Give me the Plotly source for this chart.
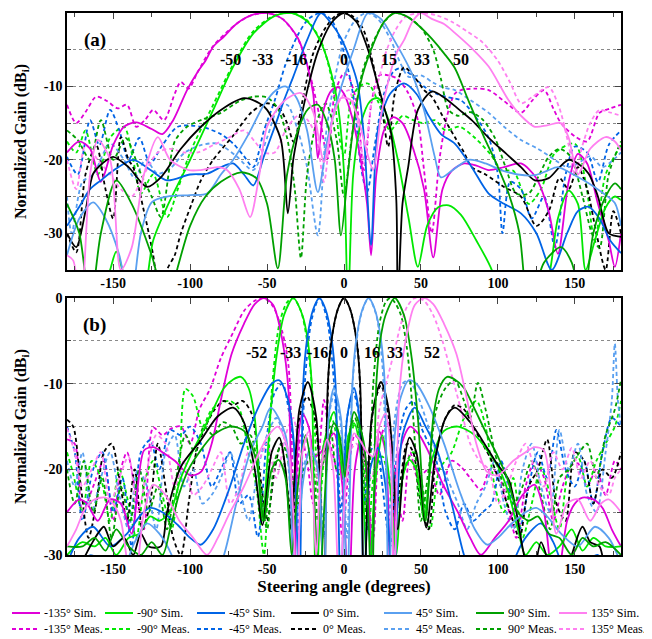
import plotly.graph_objects as go

# steering labels / colours (sim solid, meas dashed)
steer = ['-135°', '-90°', '-45°', '0°', '45°', '90°', '135°']
colors = ['#E000D8', '#00E800', '#0064E6', '#000000', '#5AA0F0', '#00A000', '#FF80F0']

# axis tick labels
x_ticks = [-150, -100, -50, 0, 50, 100, 150]
x_ticktext = ['-150', '-100', '-50', '0', '50', '100', '150']
y_ticks = [0, -10, -20, -30]
y_ticktext = ['0', '-10', '-20', '-30']

# ---------------- panel (a) : (angle deg, gain dB) ----------------
a_m135_sim = [(-180,-19),(-172,-17.5),(-165,-18.5),(-158,-23),(-150,-18),(-143,-15.5),(-135,-14.9),(-125,-15.8),(-118,-16.5),(-111,-14.6),(-102,-10.5),(-95,-8),(-90,-6.5),(-85,-4.6),(-78,-3.2),(-70,-1.5),(-60,-0.3),(-50,0),(-40,-0.8),(-30,-3.4),(-24,-7),(-20,-11),(-17,-19.8),(-13,-13),(-8,-10.5),(-4,-10.1),(0,-11),(5,-14),(10,-19),(15,-26),(17.6,-33),(21,-22),(26,-16),(32,-14.2),(38,-15),(45,-18.5),(52,-24),(58,-33.3),(64,-24),(70,-21.5),(78,-20.5),(86,-20.8),(94,-21.4),(104,-21),(115,-20.5),(125,-22.5),(133,-27),(139,-32.8),(146,-23),(152,-19.2),(158,-20.5),(165,-26),(172,-31),(176,-34.6),(180,-30)]
a_m90_sim = [(-180,-40),(-160,-40),(-152,-35),(-148,-32.5),(-144,-35),(-138,-40),(-130,-38),(-124,-31),(-115,-26.4),(-100,-20),(-85,-13.2),(-72,-7.3),(-59,-2.8),(-45,-0.4),(-34,0),(-23.5,-1.2),(-15,-4),(-8.5,-8),(-4,-12.5),(0,-21.7),(2.6,-40),(6,-22),(11,-15),(17,-12),(22,-11.6),(28,-14),(35,-20),(42,-28),(48,-34.6),(54,-29),(61,-26.5),(68,-26.2),(76,-27.5),(86,-31),(96,-35),(102,-40),(125,-40),(133,-36),(139,-28),(146,-24.2),(152,-26),(157,-35),(163,-31),(170,-26.5),(176,-25),(180,-25.5)]
a_m45_sim = [(-180,-29),(-172,-26.4),(-165,-24),(-158,-22.8),(-150,-21.5),(-137,-20),(-125,-21.5),(-115,-22.8),(-100,-22),(-89,-21.9),(-80,-21),(-72,-20.5),(-65,-22),(-59,-23.5),(-52,-19.5),(-45,-15.5),(-39,-11.9),(-33,-8.7),(-24,-3.7),(-15,0),(-8,-1.5),(-2,-3.4),(4.6,-6.7),(9,-9.8),(13,-17),(17.6,-31.6),(22,-16),(30,-11),(39,-9.6),(47,-11),(55,-14),(63,-16.5),(72,-17.8),(83,-21),(94,-24.6),(104,-26),(115,-27.3),(125,-30),(135,-35),(145,-30),(152,-27),(159,-26.4),(166,-28),(173,-31),(180,-32.7)]
a_0_sim = [(-180,-30),(-174,-31.9),(-168,-27),(-163,-21.9),(-157,-20.5),(-150,-19.6),(-140,-21),(-128,-23.7),(-119,-22.4),(-106,-18.5),(-93,-15.5),(-80,-13.2),(-65,-11.6),(-55,-12.3),(-50,-13.2),(-41,-17.3),(-36.5,-27.3),(-33,-20),(-30,-16.5),(-23.5,-10.2),(-17,-5.3),(-8,-1.3),(0,0),(8,-1.2),(15.6,-5),(21,-9),(26,-12.8),(30.6,-16.4),(34,-25.5),(35,-40),(38,-26),(41.7,-21),(48,-13.2),(57,-10.7),(65,-11.5),(75,-13.2),(83,-14.6),(94,-17),(105,-19.1),(115,-21),(124,-22.8),(133,-22.5),(140,-21),(146,-20),(152,-20.5),(159,-21.9),(165,-25),(172,-30),(180,-30.5)]
a_45_sim = [(-180,-33),(-172,-28),(-163,-25.8),(-155,-28),(-146,-33),(-139,-40),(-132,-30),(-125,-25.8),(-115,-25),(-100,-24.8),(-89,-24.6),(-80,-22),(-72,-20),(-62,-16.5),(-52,-12.5),(-44,-10.5),(-38,-10),(-31,-11.5),(-24,-16),(-17,-24.4),(-10.5,-17),(-2,-10.2),(6.5,-4.8),(15.6,0),(24,-0.8),(32.6,-3.7),(44,-8.2),(52,-13.2),(59,-19.6),(63,-22.4),(70,-21.5),(81,-20),(92,-20.5),(102,-21.4),(113,-22),(124,-22.1),(132,-21.5),(139,-21),(149,-22),(159,-23.2),(168,-24.5),(176,-25.9),(180,-29)]
a_90_sim = [(-180,-26),(-172,-30),(-165,-40),(-158,-30),(-148,-22.8),(-138,-26),(-125,-33),(-115,-40),(-108,-34.6),(-100,-29),(-90,-25),(-80,-23),(-67,-21.7),(-57,-22.5),(-50,-26),(-43,-34.8),(-37,-22),(-30,-16),(-23,-13),(-17,-12.5),(-11,-15),(-6,-20),(-2,-30.3),(2.6,-21.7),(7,-14),(12,-8.5),(19.5,-4),(26,-1.2),(33,0),(41,-0.5),(49,-1.8),(57,-3.5),(65,-5.5),(72,-7.5),(81,-12),(91,-16.9),(99,-20.5),(107,-24.6),(114,-30),(120,-40),(130,-34),(141,-31.9),(148,-34),(155,-40),(162,-30),(170,-25),(176,-23.2),(180,-24)]
a_135_sim = [(-180,-33),(-176,-33.7),(-171,-40),(-165,-22),(-160,-17.3),(-152,-20),(-145,-35),(-138,-32),(-130,-22),(-121,-16.9),(-113,-20),(-101,-21.4),(-93,-21.4),(-82,-21),(-76,-21.4),(-68,-24),(-61,-27.8),(-55,-22),(-50,-15.5),(-39,-12),(-28,-10.9),(-20,-13.5),(-13,-20.3),(-7,-14),(-2,-11.6),(4,-11.8),(10,-15),(15,-19),(19,-21.4),(24,-14),(29,-9.1),(34,-5.5),(39,-3.7),(45,-1),(50,0),(57,-0.8),(65,-1.5),(72,-2.7),(83,-4.8),(94,-7.3),(107,-11.9),(115,-14),(124,-15.5),(132,-15.3),(141,-15),(146,-17),(152,-22),(160,-18.5),(170,-16.9),(176,-17.5),(180,-18.7)]

a_m135_meas = [(-180,-12.5),(-174,-15),(-168,-13.5),(-161,-11.4),(-154,-12),(-147,-13),(-141,-12.5),(-135,-15.5),(-129,-14.5),(-124,-13.2),(-117,-14.6),(-110,-11),(-106,-9.4),(-101,-10.3),(-95,-8),(-85,-4.5),(-70,-1.5),(-60,-0.3),(-50,0),(-40,-0.8),(-30,-3.5),(-22,-8.5),(-16,-14),(-10.5,-19.8),(-6,-11),(0,-8.2),(3,-8.7),(8,-12),(13,-21.4),(18,-12),(23,-8.5),(29,-8.5),(35,-9),(42,-11),(48,-14.6),(52,-21.4),(57,-30),(62,-20),(67,-14),(72,-11),(76,-10.5),(85,-10.3),(94,-10.5),(104,-12),(115,-13.6),(122,-12),(130,-10.5),(136,-13),(141,-15),(150,-16.8),(158,-17.5),(166,-13.6),(173,-13),(180,-12.5)]
a_m90_meas = [(-180,-17.5),(-174,-19),(-168,-16),(-160,-22),(-152,-17),(-143,-15.5),(-137,-20),(-132,-24.6),(-124,-22),(-115,-27.8),(-108,-24),(-100,-19),(-85,-12.5),(-72,-7),(-59,-2.5),(-45,-0.3),(-34,0),(-25,-0.8),(-15,-3.8),(-8,-9),(-3,-17),(0,-19.5),(4.6,-11.9),(10,-10),(15.6,-9.6),(22,-12),(30,-16),(38,-14),(45,-14.6),(52,-15),(59,-14.6),(66,-16),(75,-15.5),(85,-17),(95,-19.2),(103,-21.5),(110,-21.5),(120,-26),(128,-24),(137,-19.1),(150,-17.8),(157,-23),(163,-31),(170,-22),(180,-18)]
a_m45_meas = [(-180,-19.6),(-173,-22),(-165,-14.6),(-159,-18),(-152,-13.2),(-146,-16),(-140,-20),(-133,-17),(-126,-20.5),(-118,-18),(-108,-15.5),(-93,-15.5),(-80,-16.5),(-72,-17.8),(-65,-19.5),(-59,-21),(-52,-16),(-45,-11.9),(-38,-7),(-30,-3),(-23,-0.8),(-15,0),(-8,-1),(-2,-4),(3,-8),(6.5,-11.9),(11,-21),(15,-24.4),(20,-18),(26,-11),(32,-8),(37,-7.5),(44,-8.5),(52,-10),(60,-11),(68,-11.5),(76,-11.9),(85,-14),(94,-17),(100,-22),(103,-30),(108,-23),(115,-24),(122,-28),(130,-25),(137,-31.9),(144,-22),(150,-18.2),(158,-19),(165,-23),(172,-18),(180,-16)]
a_0_meas = [(-180,-30),(-174,-32.6),(-168,-22),(-161,-18),(-155,-24),(-150,-28),(-145,-16.9),(-140,-20),(-137,-21),(-130,-27),(-124,-33),(-119,-40),(-115,-35),(-110,-33),(-106,-30),(-99,-26),(-93,-22.8),(-85,-20),(-72,-16.7),(-60,-13.5),(-50,-12.3),(-42,-13),(-37,-15),(-32.6,-17.6),(-27,-12),(-20,-5.5),(-12,-2),(-5,-0.3),(0,0),(6,-0.5),(12,-2),(15.6,-4.1),(20,-8),(24,-11.9),(28.7,-18.2),(33,-11),(39,-7.4),(45,-8.5),(52,-10.5),(57,-11.4),(64,-14),(72,-16.9),(78,-19),(83,-21),(92,-22),(104,-23.7),(115,-25),(125,-29),(133,-27),(140,-22.5),(146,-24),(152,-21),(158,-24),(164,-30),(170,-35),(175,-27),(180,-30)]
a_45_meas = [(-180,-25),(-177,-30),(-170,-23),(-163,-22),(-152,-17.8),(-143,-20),(-136,-22.5),(-129,-20),(-121,-21.9),(-112,-21),(-104,-19.1),(-93,-18),(-82,-17.8),(-70,-19.5),(-59,-21.4),(-50,-17),(-43,-13),(-37,-12.5),(-30,-16),(-24,-21),(-17,-30.3),(-12,-17),(-6,-9),(0,-3.8),(8,-0.8),(15,0),(22,-0.8),(30,-3.5),(37,-7),(42,-8.7),(50,-8.5),(58,-9.5),(65,-10.2),(72,-10.5),(83,-12),(94,-13.6),(104,-15.5),(115,-17.3),(126,-18.5),(137,-20),(145,-21),(152,-20.5),(160,-19.5),(168,-21),(175,-20),(180,-19)]
a_90_meas = [(-180,-16),(-173,-17.3),(-165,-20),(-158,-14.6),(-150,-20),(-142,-17),(-132,-21.9),(-125,-25),(-119,-27.8),(-110,-17.5),(-102,-15.5),(-92,-14.5),(-80,-13.6),(-68,-12),(-59,-11.4),(-50,-11.5),(-43,-13),(-37,-17),(-32,-24),(-28,-33.4),(-24,-22),(-18,-15),(-12,-12.3),(-5,-17),(0,-25),(5,-17),(12,-8),(20,-3.5),(27,-1),(33,0),(41,-0.5),(50,-2),(58,-5),(63,-9),(68,-13.2),(74,-14),(82,-13.5),(90,-14.5),(98,-17),(105,-21),(112,-24.6),(120,-24.6),(127,-22),(133,-19.6),(140,-18.5),(147,-19.5),(155,-25),(161,-30),(166,-32),(172,-22),(180,-17.5)]
a_135_meas = [(-180,-20),(-174,-24),(-168,-18),(-160,-20),(-152,-22),(-145,-24),(-138,-25),(-130,-22),(-121,-19),(-113,-18.5),(-104,-19),(-95,-19),(-85,-18),(-75,-17),(-65,-16),(-58,-17.5),(-52,-19),(-45,-19),(-38,-16),(-30,-14),(-24,-14.5),(-18,-17),(-13,-23),(-8,-15),(-3,-12),(3,-10.5),(8,-14),(13,-20),(18,-12),(22,-9.5),(27,-5.5),(33,-2.5),(40,-0.5),(50,0),(60,-0.3),(70,-1.2),(80,-2.5),(90,-4),(100,-6.5),(108,-9.5),(115,-12.3),(122,-11.5),(133,-10.1),(140,-13),(146,-18),(150,-22),(155,-18),(160,-15),(166,-13.2),(172,-13.5),(180,-14)]

# ---------------- panel (b) ----------------
b_m135_sim = [(-180,-25),(-172,-23.5),(-167,-24),(-160,-26),(-152,-23.5),(-145,-24),(-138,-27.5),(-130,-17.8),(-124,-17.4),(-118,-18),(-110,-19),(-100,-20.7),(-93,-20.3),(-86,-17),(-80,-11.9),(-73,-6.5),(-65,-3),(-58,-0.7),(-52,0),(-46,-0.8),(-40,-5),(-36,-11),(-32.6,-35),(-30,-17),(-27,-13.5),(-23,-15),(-19,-18.5),(-15,-18),(-10,-16.5),(-6.5,-15.8),(-1,-22),(3,-35),(7,-20),(11,-16.5),(15,-20),(18,-30),(23,-15.6),(27,-18),(30.6,-35),(36,-18),(43,-15),(49,-16),(55,-18),(65,-22),(74,-25),(82,-28),(89,-30),(98,-28),(107,-26),(116,-23),(124,-21.8),(130,-25),(137,-35),(145,-26),(150,-24),(155,-23.3),(162,-23.5),(168,-24.5),(174,-27),(180,-29)]
b_m90_sim = [(-180,-30),(-170,-28.5),(-162,-29),(-155,-28),(-148,-30),(-140,-28),(-133,-27.5),(-126,-25.5),(-120,-26),(-113,-25),(-106,-21),(-100,-18.5),(-93,-16),(-85,-13),(-78,-10.5),(-72,-9.5),(-67,-9.2),(-62,-10.5),(-58,-14),(-53,-26),(-48,-14),(-44,-7),(-39,-2),(-33,0),(-27,-2),(-23.5,-5),(-21,-10),(-18,-35),(-13,-17),(-6.5,-13.3),(-3,-17),(-0.6,-20.9),(3,-16),(6.5,-14.6),(10,-17),(13,-25),(16,-35),(20,-22),(25,-16),(30,-22),(34,-30),(38,-21),(42.5,-18.9),(47,-20),(52,-26),(57,-19),(65,-15.5),(74,-15),(85,-16),(94,-18),(101,-20),(107,-22.8),(113,-27),(118,-30),(125,-28.5),(132,-30),(140,-29),(148,-27),(155,-29.5),(162,-28),(170,-29),(180,-29)]
b_m45_sim = [(-180,-31),(-172,-28),(-163,-26.7),(-152,-29),(-141,-27.5),(-132,-25.3),(-126,-24.5),(-118,-25),(-108,-26.5),(-100,-28),(-93,-28.8),(-85,-27),(-75,-22.5),(-65,-17),(-55,-12.5),(-47,-10),(-42,-9.6),(-37,-11.5),(-33,-16),(-29,-35),(-26.5,-10),(-24,-4.8),(-20,-1.3),(-16,0),(-12,-1.3),(-8,-4.8),(-5.5,-10),(-2,-35),(2,-14),(6.5,-10.5),(10,-14),(13,-35),(17,-20),(22,-17.5),(27,-22),(32,-35),(38,-16),(46,-12.8),(53,-15),(61,-18),(70,-24),(78,-30),(85,-33),(95,-35),(105,-35),(112,-30),(120,-27.5),(128,-26.3),(136,-28.5),(145,-32),(155,-31),(165,-30),(172,-32),(180,-31)]
b_0_sim = [(-180,-30),(-172,-31),(-165,-29),(-160,-27.5),(-156,-26.7),(-150,-29),(-143,-28),(-137,-30),(-132,-27.5),(-127,-29),(-119,-29),(-115,-25),(-106,-19.7),(-93,-16.6),(-82,-13.8),(-72,-12.8),(-65,-14.5),(-58,-20),(-53,-26.5),(-47,-18),(-42,-16.3),(-38,-20),(-34.5,-27),(-29,-13),(-23.5,-9.8),(-18,-14),(-13,-35),(-10.5,-10),(-8,-4.8),(-4,-1.3),(0,0),(4,-1.3),(8,-4.8),(10.5,-10),(13,-35),(18,-14),(24,-9.8),(29,-13),(35,-27),(38.5,-20),(42.5,-16.3),(47,-18),(53.5,-26.8),(59,-19),(66,-14),(72,-12.8),(82,-14.5),(93,-17.5),(100,-19.5),(107,-21.2),(112,-25),(117,-30),(122,-33),(128,-28.5),(133,-31),(140,-35),(148,-30),(155,-26.7),(160,-28.5),(166,-29),(172,-33),(180,-32)]
b_45_sim = [(-180,-31),(-172,-32),(-165,-30),(-155,-31),(-145,-32),(-136,-28.5),(-128,-26.3),(-120,-27.5),(-112,-30),(-105,-34),(-95,-35),(-85,-33),(-78,-30),(-70,-24),(-61,-18),(-53,-15),(-47.6,-12.8),(-38,-16),(-32,-35),(-27,-22),(-22,-17.5),(-17,-20),(-13,-35),(-10,-14),(-6.5,-10.5),(-2,-14),(2,-35),(5.5,-10),(8,-4.8),(12,-1.3),(16,0),(20,-1.3),(24,-4.8),(26.5,-10),(29,-35),(33,-16),(37,-11.5),(42,-9.6),(47,-10),(55,-12.5),(65,-17),(75,-22.5),(85,-27),(93,-28.8),(100,-28),(108,-26.5),(118,-25),(125,-24.5),(132,-25.5),(141,-27.5),(152,-29),(163,-26.7),(172,-28),(180,-31)]
b_90_sim = [(-180,-29),(-170,-29),(-162,-28),(-155,-29.5),(-148,-27),(-140,-29),(-132,-30),(-125,-28.5),(-118,-30),(-113,-27),(-107,-22.8),(-101,-20),(-94,-18),(-85,-16),(-74,-15),(-65,-15.5),(-57,-19),(-52,-26),(-47,-20),(-42.5,-18.9),(-38,-21),(-34,-30),(-30,-22),(-25,-16),(-20,-22),(-16,-35),(-13,-25),(-10,-17),(-6.5,-14.6),(-3,-16),(0.6,-20.9),(3,-17),(6.5,-13.3),(13,-17),(18,-35),(21,-10),(23.5,-5),(27,-2),(33,0),(39,-2),(44,-7),(48,-14),(53,-26),(58,-14),(62,-10.5),(67,-9.2),(72,-9.5),(78,-10.5),(85,-13),(93,-16),(100,-18.5),(106,-21),(113,-25),(120,-26),(126,-25.5),(133,-27.5),(140,-28),(148,-30),(155,-28),(162,-29),(170,-28.5),(180,-30)]
b_135_sim = [(-180,-29),(-174,-27),(-168,-24.5),(-162,-23.5),(-155,-23.3),(-150,-24),(-145,-26),(-137,-35),(-130,-25),(-124,-21.8),(-116,-23),(-107,-26),(-98,-28),(-89,-30),(-82,-28),(-74,-25),(-65,-22),(-55,-18),(-49,-16),(-43,-15),(-36,-18),(-30.6,-35),(-27,-18),(-23,-15.6),(-18,-30),(-15,-20),(-11,-16.5),(-7,-20),(-3,-35),(1,-22),(6.5,-15.8),(10,-16.5),(15,-18),(19,-18.5),(23,-15),(27,-13.5),(30,-17),(32.6,-35),(36,-11),(40,-5),(46,-0.8),(52,0),(58,-0.7),(65,-3),(73,-6.5),(80,-11.9),(86,-17),(93,-20.3),(100,-20.7),(110,-19),(118,-18),(124,-17.4),(130,-17.8),(138,-27.5),(145,-24),(152,-23.5),(160,-26),(167,-24),(172,-23.5),(180,-25)]

b_m135_meas = [(-180,-16.5),(-175,-17),(-170,-25),(-163,-22),(-156,-19),(-150,-26),(-145,-20),(-141,-18),(-136,-22),(-130,-27),(-124,-15.1),(-118,-16),(-112,-15.2),(-106,-15),(-100,-17),(-94,-13),(-87,-10.6),(-80,-7),(-72,-4),(-65,-1.5),(-58,-0.3),(-52,0),(-46,-1),(-40,-4),(-36,-8),(-32,-25),(-28,-16),(-24,-19),(-20,-24),(-16,-18),(-13,-11.9),(-9,-17),(-5,-20),(-1,-28),(3,-20),(7,-16),(11,-17),(15,-22),(19,-28),(23,-17),(28,-14.5),(33,-20),(38,-26),(43,-18),(48,-21),(55,-20),(62,-23),(70,-19),(76,-19.7),(82,-21),(89,-22.4),(95,-20),(100,-20.5),(106,-24),(112,-28),(118,-22),(124,-19),(130,-21),(136,-26),(142,-22),(148,-19.5),(152,-19.3),(158,-22),(164,-20),(170,-23),(176,-19),(180,-20)]
b_m90_meas = [(-180,-18),(-176,-20.5),(-170,-25),(-164,-19),(-158,-21),(-152,-26),(-146,-20),(-140,-24),(-135,-28),(-129,-21),(-124,-19),(-118,-23),(-112,-27),(-107,-20),(-103,-10.6),(-98,-11.5),(-92,-15),(-86,-13),(-80,-12.3),(-74,-12),(-68,-13),(-62,-18),(-57,-22),(-52,-30),(-47,-11),(-42,-3),(-37,-0.5),(-33,0),(-28,-1.5),(-24,-5),(-20,-12),(-16,-24),(-12,-17),(-8,-14),(-4,-17),(0,-22),(4,-16),(8,-14.5),(12,-18),(16,-27),(20,-20),(25,-18.5),(30,-22),(35,-24),(40,-19.5),(45,-18),(50,-21),(56,-27),(62,-20),(70,-18),(78,-14),(86,-12),(92,-15),(98,-22),(104,-25),(110,-21),(116,-28),(122,-24),(128,-19.8),(134,-23),(140,-27),(146,-20),(152,-18.5),(158,-22),(164,-19),(170,-17),(176,-15),(180,-12)]
b_m45_meas = [(-180,-15),(-175,-18),(-170,-26),(-163,-20),(-157,-18),(-150,-25),(-144,-21),(-138,-29),(-132,-18),(-126,-16.6),(-120,-20),(-113,-15.4),(-106,-16),(-100,-15),(-93,-17),(-86,-22),(-80,-20),(-74,-18),(-68,-24),(-62,-23),(-56,-27.9),(-50,-16),(-45,-11),(-40,-10),(-36,-13),(-32,-18),(-29,-28),(-25.5,-10),(-21,-2.5),(-16,0),(-11,-2.5),(-6,-11),(-2,-25),(2,-14),(6,-11),(10,-14),(13,-24),(17,-18),(21,-17),(25,-22),(30,-29),(35,-17),(40,-13),(45,-12),(50,-15),(55,-17),(60,-19),(66,-25),(72,-27),(78,-24),(84,-26),(90,-25),(96,-24),(102,-19),(108,-23),(114,-27),(120,-22),(126,-18),(132,-21),(138,-15.4),(144,-20),(150,-22),(156,-19),(162,-24),(168,-18),(174,-14),(180,-15)]
b_0_meas = [(-180,-14.2),(-176,-15),(-171,-22),(-166,-28),(-161,-24),(-156,-18),(-151,-17),(-146,-21),(-141,-26),(-136,-20),(-131,-27),(-126,-24),(-121,-17),(-116,-22),(-111,-28),(-106,-30),(-101,-24),(-96,-18),(-90,-15),(-84,-13),(-78,-12),(-72,-12.5),(-66,-12),(-60,-13.5),(-55,-20),(-50,-26),(-45,-20),(-41,-17),(-37,-22),(-33,-27),(-29,-14),(-24,-11.5),(-19,-14),(-15,-20),(-12,-17),(-9,-6),(-4,-1.3),(0,0),(4,-1.3),(9,-6),(12,-17),(15,-20),(19,-13),(24,-10.2),(29,-14),(33,-26),(37,-21),(41,-17),(45,-18),(50,-24),(55,-27),(60,-18),(66,-14),(72,-12.5),(78,-13),(84,-15),(90,-17),(96,-19),(102,-22),(108,-25),(114,-28),(120,-22),(126,-20),(132,-16.5),(138,-24),(144,-26),(150,-18),(156,-19),(162,-24),(168,-20),(174,-21),(180,-18)]
b_45_meas = [(-180,-19),(-175,-22),(-170,-18),(-164,-25),(-158,-21),(-152,-18),(-146,-23),(-140,-27),(-134,-20),(-128,-22),(-122,-27),(-116,-18),(-110,-16),(-104,-22),(-98,-20),(-92,-24),(-86,-23),(-80,-21),(-74,-18),(-68,-22),(-62,-26),(-56,-20),(-50,-16),(-44,-14),(-38,-17),(-32,-27),(-27,-20),(-22,-18),(-17,-20),(-13,-28),(-10,-14),(-6,-11),(-2,-15),(2,-28),(5.5,-10),(11,-2),(16,0),(21,-2),(25,-8),(29,-26),(33,-14),(38,-10),(42,-9.6),(47,-11),(53,-14),(60,-18),(67,-21),(74,-24),(80,-27),(86,-24),(92,-22),(98,-19),(104,-24),(110,-27),(116,-20),(122,-17),(128,-22),(134,-25),(140,-15.4),(146,-20),(152,-17),(158,-23),(164,-25),(170,-18),(174,-12),(176,-5.3),(178,-12),(180,-15)]
b_90_meas = [(-180,-20),(-175,-24),(-169,-19),(-163,-25),(-157,-21),(-151,-28),(-145,-22),(-139,-26),(-133,-20),(-127,-25),(-121,-22),(-115,-27),(-109,-21),(-103,-16),(-97,-18),(-91,-15),(-85,-16),(-79,-14.5),(-73,-15),(-67,-17),(-61,-16),(-55,-21),(-50,-27),(-45,-19),(-40,-17),(-35,-20),(-30,-24),(-26,-20),(-21,-18.5),(-17,-26),(-13,-17),(-9,-15),(-5,-20),(-1,-21),(3,-16),(7,-14),(11,-17),(15,-27),(19,-10),(23,-3),(27,-0.5),(30,0),(33,-0.5),(37,-2),(41,-6),(45,-14),(50,-26),(55,-20),(60,-13),(66,-10.5),(72,-9.6),(78,-12),(82,-14),(87,-9.9),(92,-13),(98,-18),(104,-22),(110,-24),(116,-22),(122,-19),(128,-23),(134,-27),(140,-21),(146,-20),(152,-18.3),(158,-17),(164,-21),(170,-16),(176,-13),(180,-9.5)]
b_135_meas = [(-180,-15.2),(-175,-18),(-170,-22),(-164,-20),(-158,-18),(-152,-24),(-146,-21),(-140,-18.5),(-134,-25),(-128,-20),(-122,-16),(-116,-17),(-110,-22),(-104,-19),(-98,-23),(-92,-22),(-86,-20),(-80,-18),(-74,-24),(-68,-22),(-62,-18),(-56,-19),(-50,-17),(-44,-21),(-38,-16),(-33,-14),(-28,-18),(-22,-16),(-17,-21),(-12,-18),(-7,-17),(-2,-19),(3,-18),(8,-17),(13,-19),(18,-21),(23,-13),(28,-9.5),(33,-6),(37,-3),(41,-1),(46,0),(52,-0.3),(58,-2),(64,-5),(70,-9),(76,-13),(82,-17),(88,-19),(94,-20),(100,-24),(106,-22),(112,-19),(118,-17),(124,-20),(130,-22),(136,-18),(142,-20),(148,-17.5),(154,-21),(160,-19),(166,-22),(172,-23),(176,-21),(180,-20)]

a_sims = [a_m135_sim, a_m90_sim, a_m45_sim, a_0_sim, a_45_sim, a_90_sim, a_135_sim]
a_meas = [a_m135_meas, a_m90_meas, a_m45_meas, a_0_meas, a_45_meas, a_90_meas, a_135_meas]
b_sims = [b_m135_sim, b_m90_sim, b_m45_sim, b_0_sim, b_45_sim, b_90_sim, b_135_sim]
b_meas = [b_m135_meas, b_m90_meas, b_m45_meas, b_0_meas, b_45_meas, b_90_meas, b_135_meas]

# beam labels
a_lbl = ['-50', '-33', '-16', '0', '15', '33', '50']
a_lbl_x = [-74, -53, -31, 0, 29, 51, 76]
b_lbl = ['-52', '-33', '-16', '0', '16', '33', '52']
b_lbl_x = [-57, -35, -17, 0, 18, 33, 57]

FONT = 'Liberation Serif'
fig = go.Figure()


def add_curve(pts, color, dash, xa, ya):
    xs = [p[0] for p in pts]
    ys = [p[1] for p in pts]
    fig.add_trace(go.Scatter(
        x=xs, y=ys, mode='lines', showlegend=False, hoverinfo='skip',
        line=dict(color=color, width=1.8, dash=dash, shape='spline', smoothing=0.8),
        xaxis=xa, yaxis=ya))


MEAS_DASH = '4px,3px'
# meas first so sims sit on top
for i in range(7):
    add_curve(a_meas[i], colors[i], MEAS_DASH, 'x', 'y')
    add_curve(b_meas[i], colors[i], MEAS_DASH, 'x2', 'y2')
for i in range(7):
    add_curve(a_sims[i], colors[i], 'solid', 'x', 'y')
    add_curve(b_sims[i], colors[i], 'solid', 'x2', 'y2')

tick = dict(family=FONT, size=14, color='black', weight='bold')
xcommon = dict(range=[-180, 180], tickvals=x_ticks, ticktext=x_ticktext,
               ticks='inside', ticklen=6, tickwidth=1.2, mirror='ticks',
               showline=True, linecolor='black', linewidth=1.5, showgrid=False,
               zeroline=False, tickfont=tick,
               minor=dict(tickvals=[-175, -125, -75, -25, 25, 75, 125, 175], ticks='inside', ticklen=4))
ycommon = dict(ticks='inside', ticklen=6, tickwidth=1.2, mirror='ticks', showline=True,
               tickvals=y_ticks, ticktext=y_ticktext,
               linecolor='black', linewidth=1.5, zeroline=False, tickfont=tick,
               showgrid=True, gridcolor='#8a8a8a', griddash='dot', gridwidth=1,
               minor=dict(dtick=5, ticks='inside', ticklen=4, showgrid=True,
                          gridcolor='#8a8a8a', griddash='dot', gridwidth=1))

# page body adds an 8px offset, so the figure is drawn 8px smaller
fig.update_layout(
    width=644, height=631,
    margin=dict(l=59, r=31, t=5, b=84, autoexpand=False),
    plot_bgcolor='white', paper_bgcolor='white',
    font=dict(family=FONT, color='black'),
    showlegend=False,
    xaxis=dict(domain=[0, 1], anchor='y', **xcommon),
    yaxis=dict(domain=[0.526, 1], anchor='x', range=[-35, 0], **ycommon),
    xaxis2=dict(domain=[0, 1], anchor='y2',
                title=dict(text='<b>Steering angle (degrees)</b>', font=dict(family=FONT, size=17), standoff=4),
                **xcommon),
    yaxis2=dict(domain=[0, 0.474], anchor='x2', range=[-30, 0], **ycommon),
)

ann = []
for yc in [0.763, 0.237]:
    ann.append(dict(text='<b>Normalized Gain (dB<sub>i</sub>)</b>', xref='paper', yref='paper',
                    x=-0.082, y=yc, xanchor='center', yanchor='middle', textangle=-90, showarrow=False,
                    font=dict(family=FONT, size=16, color='black')))
ann.append(dict(text='<b>(a)</b>', xref='paper', yref='paper', x=0.05, y=0.95,
                xanchor='center', yanchor='middle',
                showarrow=False, font=dict(family=FONT, size=19, color='black')))
ann.append(dict(text='<b>(b)</b>', xref='paper', yref='paper', x=0.05, y=0.424,
                xanchor='center', yanchor='middle',
                showarrow=False, font=dict(family=FONT, size=19, color='black')))
for t, xv in zip(a_lbl, a_lbl_x):
    ann.append(dict(text='<b>' + t + '</b>', x=xv, y=-6.3, xref='x', yref='y', showarrow=False,
                    xanchor='center', yanchor='middle',
                    font=dict(family=FONT, size=16, color='black')))
for t, xv in zip(b_lbl, b_lbl_x):
    ann.append(dict(text='<b>' + t + '</b>', x=xv, y=-6.3, xref='x2', yref='y2', showarrow=False,
                    xanchor='center', yanchor='middle',
                    font=dict(family=FONT, size=16, color='black')))

# legend: two rows (Sim. solid / Meas. dashed), seven columns below the plot
plot_w = 554.0
plot_h = 542.0
leg_cols_px = [4, 97, 189, 283, 376, 468, 551]   # sample-line start, figure px
leg_rows_px = [605, 621]                         # row centre, figure px (from top)
leg_line_len = 28
shapes = []
for r, (suffix, dash) in enumerate([(' Sim.', 'solid'), (' Meas.', MEAS_DASH)]):
    yp = (542 + 5 - leg_rows_px[r]) / plot_h
    for c in range(7):
        x0 = (leg_cols_px[c] - 59) / plot_w
        x1 = (leg_cols_px[c] + leg_line_len - 59) / plot_w
        shapes.append(dict(type='line', xref='paper', yref='paper', x0=x0, x1=x1, y0=yp, y1=yp,
                           line=dict(color=colors[c], width=2, dash=dash)))
        ann.append(dict(text=steer[c] + suffix, xref='paper', yref='paper',
                        x=(leg_cols_px[c] + leg_line_len + 2 - 59) / plot_w, y=yp,
                        xanchor='left', yanchor='middle', showarrow=False,
                        font=dict(family=FONT, size=12, color='black')))

fig.update_layout(annotations=ann, shapes=shapes)

fig.write_html("out.html")
